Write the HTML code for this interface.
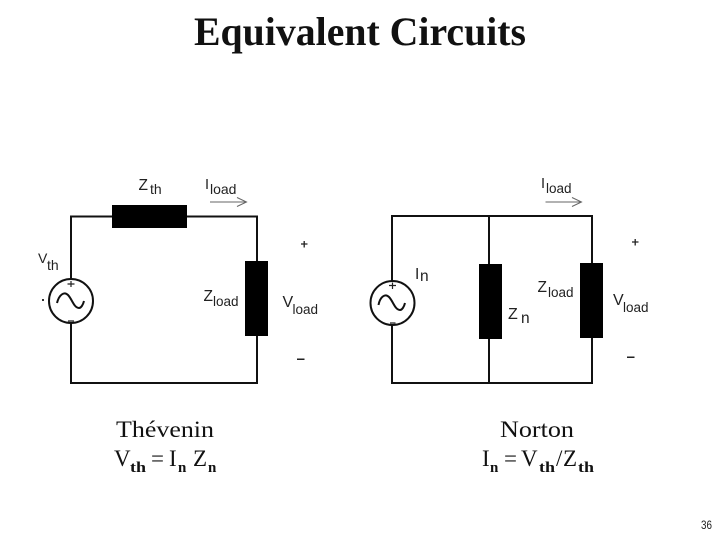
<!DOCTYPE html>
<html>
<head>
<meta charset="utf-8">
<style>
html,body{margin:0;padding:0;background:#fff;}
svg{display:block;position:absolute;left:0;top:0;}
.s{font-family:"Liberation Sans",sans-serif;fill:#222;}
.t{font-family:"Liberation Serif",serif;fill:#111;}
.c{font-size:23px;}
.b{font-size:15px;font-weight:bold;}
</style>
</head>
<body>
<svg width="720" height="540" viewBox="0 0 720 540" xmlns="http://www.w3.org/2000/svg">
<rect width="720" height="540" fill="#fff"/>
<text class="t" x="194" y="45" font-size="40" font-weight="bold" fill="#000" textLength="332" lengthAdjust="spacingAndGlyphs">Equivalent Circuits</text>

<!-- Thevenin -->
<path d="M71 279V216.500H257V383H71V323" fill="none" stroke="#111" stroke-width="2"/>
<rect x="112" y="205" width="75" height="23" fill="#000"/>
<rect x="245" y="261" width="23" height="75" fill="#000"/>
<circle cx="71" cy="301" r="22" fill="#fff" stroke="#111" stroke-width="2"/>
<path d="M57 303C59 295 64 291 68 295C72 299 74 308 79 308C81 308 83 305 84 301" fill="none" stroke="#111" stroke-width="2"/>
<path d="M67.500 284H74.500M71 281V287M68 321H74" fill="none" stroke="#222" stroke-width="1.200"/>
<rect x="42" y="299" width="2" height="2" fill="#333"/>
<text class="s" x="138.500" y="190" font-size="15.500">Z</text>
<text class="s" x="150" y="194" font-size="14">th</text>
<text class="s" x="205" y="189" font-size="14.500">I</text>
<text class="s" x="210" y="194" font-size="14">load</text>
<path d="M210 202H246M237 197.500L246.500 202L237 206.500" fill="none" stroke="#666" stroke-width="1"/>
<text class="s" x="38" y="263" font-size="14">V</text>
<text class="s" x="47" y="270" font-size="14">th</text>
<text class="s" x="203.500" y="301" font-size="15.500">Z</text>
<text class="s" x="213" y="306" font-size="13.500">load</text>
<text class="s" x="282.500" y="307" font-size="16">V</text>
<text class="s" x="292.500" y="314" font-size="13.500">load</text>
<path d="M301 244H307.500M304.200 241V247.500" fill="none" stroke="#222" stroke-width="1.300"/>
<rect x="297" y="358.500" width="7.500" height="1.500" fill="#222"/>

<!-- Norton -->
<path d="M392 281V216H592V383H392V325M489 216V383" fill="none" stroke="#111" stroke-width="2"/>
<rect x="479" y="264" width="23" height="75" fill="#000"/>
<rect x="580" y="263" width="23" height="75" fill="#000"/>
<circle cx="392.500" cy="303" r="22" fill="#fff" stroke="#111" stroke-width="2"/>
<path d="M378.500 305C380 297 385 293 389 297C393 301 395 310 400 310C402 310 404 307 405 303" fill="none" stroke="#111" stroke-width="2"/>
<path d="M389 285.500H396M392.500 282.500V289M390 323H395.500" fill="none" stroke="#222" stroke-width="1.200"/>
<text class="s" x="415" y="279" font-size="15.500">I</text>
<text class="s" x="420" y="281" font-size="15.500">n</text>
<text class="s" x="508" y="319" font-size="16">Z</text>
<text class="s" x="521" y="323" font-size="15.500">n</text>
<text class="s" x="537.500" y="292" font-size="15.500">Z</text>
<text class="s" x="548" y="297" font-size="13.500">load</text>
<text class="s" x="613" y="305" font-size="16">V</text>
<text class="s" x="623" y="312" font-size="13.500">load</text>
<path d="M632 242H638.500M635.200 239V245.500" fill="none" stroke="#222" stroke-width="1.300"/>
<rect x="627" y="356.500" width="7.500" height="1.500" fill="#222"/>
<text class="s" x="541" y="188" font-size="14.500">I</text>
<text class="s" x="546" y="193" font-size="13.500">load</text>
<path d="M545.500 202H581M572 197.500L581.500 202L572 206.500" fill="none" stroke="#666" stroke-width="1"/>

<!-- captions -->
<text class="t c" x="116" y="437" textLength="98" lengthAdjust="spacingAndGlyphs">Thévenin</text>
<text class="t c" x="500" y="437" textLength="74" lengthAdjust="spacingAndGlyphs">Norton</text>

<text class="t c" x="114" y="466">V</text>
<text class="t b" x="130" y="472" textLength="16" lengthAdjust="spacingAndGlyphs">th</text>
<text class="t c" x="151" y="466">=</text>
<text class="t c" x="169" y="466">I</text>
<text class="t b" x="178" y="472">n</text>
<text class="t c" x="193" y="466">Z</text>
<text class="t b" x="208" y="472">n</text>

<text class="t c" x="482" y="466">I</text>
<text class="t b" x="490" y="472">n</text>
<text class="t c" x="504" y="466">=</text>
<text class="t c" x="521" y="466">V</text>
<text class="t b" x="539" y="472" textLength="16" lengthAdjust="spacingAndGlyphs">th</text>
<text class="t c" x="556" y="466">/</text>
<text class="t c" x="563" y="466">Z</text>
<text class="t b" x="578" y="472" textLength="16" lengthAdjust="spacingAndGlyphs">th</text>

<text class="s" x="701" y="529" font-size="12" fill="#111" textLength="11" lengthAdjust="spacingAndGlyphs">36</text>
</svg>
</body>
</html>
